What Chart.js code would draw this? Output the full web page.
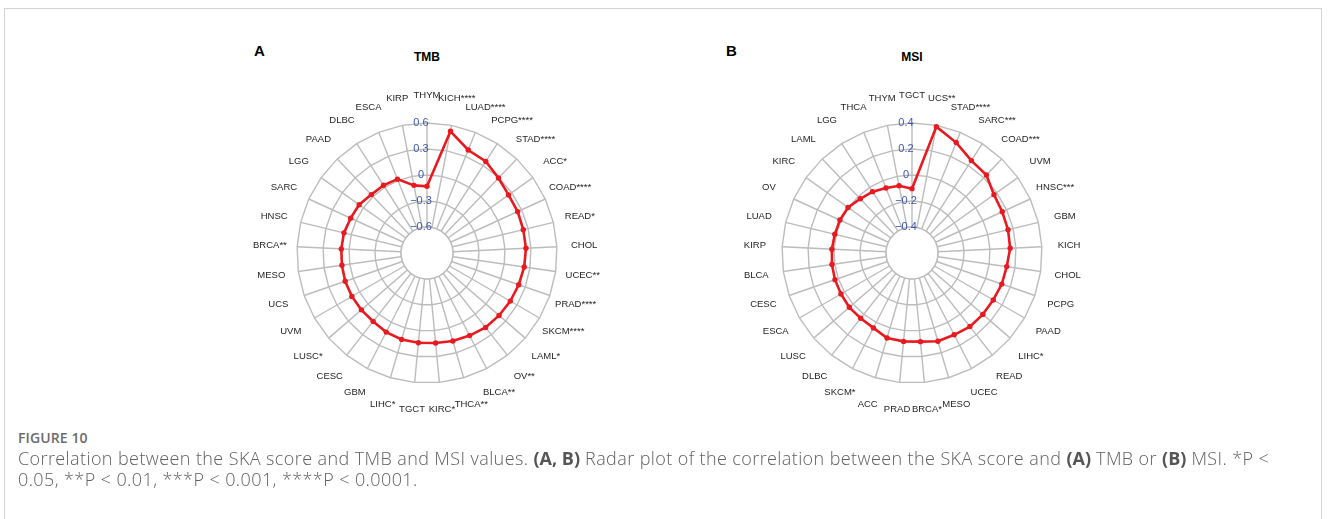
<!DOCTYPE html>
<html>
<head>
<meta charset="utf-8">
<script src="https://cdn.jsdelivr.net/npm/chart.js@4.4.1/dist/chart.umd.min.js"></script>
<style>
  html, body { margin: 0; padding: 0; background: #fff; }
  body { width: 1328px; height: 519px; position: relative; overflow: hidden; font-family: "Liberation Sans", Arial, sans-serif; }
  .frame { position: absolute; left: 4px; top: 8px; width: 1318px; height: 530px; border: 1px solid #d3d3d3; box-sizing: border-box; }
  .panel { position: absolute; font-weight: bold; color: #000; font-size: 15px; line-height: 15px; }
  .title { position: absolute; font-weight: bold; color: #000; font-size: 12px; line-height: 12px; width: 100px; text-align: center; }
  canvas { position: absolute; }
  .figlabel { position: absolute; left: 18px; top: 429px; font-family: "Open Sans", sans-serif; font-weight: 600; font-size: 14px; line-height: 18px; color: #6b6b6b; letter-spacing: 0.1px; }
  .caption { position: absolute; left: 18px; top: 448px; width: 1300px; font-family: "Open Sans", sans-serif; font-weight: 300; font-size: 18px; line-height: 21px; color: #606060; white-space: nowrap; letter-spacing: 0.4px; }
  .caption b { font-weight: 700; color: #555; letter-spacing: 0; }
</style>
</head>
<body>
<div class="frame"></div>
<div class="panel" style="left:254px; top:43px;">A</div>
<div class="title" style="left:377px; top:51px;">TMB</div>
<div class="panel" style="left:726px; top:43px;">B</div>
<div class="title" style="left:862px; top:51px;">MSI</div>
<canvas id="tmb" width="400" height="400" style="left:227px; top:53px;"></canvas>
<canvas id="msi" width="400" height="400" style="left:712px; top:53px;"></canvas>
<div class="figlabel">FIGURE 10</div>
<div class="caption">Correlation between the SKA score and TMB and MSI values. <b>(A, B)</b> Radar plot of the correlation between the SKA score and <b>(A)</b> TMB or <b>(B)</b> MSI. *P &lt;<br>0.05, **P &lt; 0.01, ***P &lt; 0.001, ****P &lt; 0.0001.</div>
<script>
// ---- Data ----
const tmbLabels = ["THYM","KICH****","LUAD****","PCPG****","STAD****","ACC*","COAD****","READ*","CHOL","UCEC**","PRAD****","SKCM****","LAML*","OV**","BLCA**","THCA**","KIRC*","TGCT","LIHC*","GBM","CESC","LUSC*","UVM","UCS","MESO","BRCA**","HNSC","SARC","LGG","PAAD","DLBC","ESCA","KIRP"];
const tmbValues = [-0.13,0.53,0.38,0.355,0.295,0.255,0.25,0.243,0.243,0.233,0.22,0.21,0.2,0.194,0.172,0.159,0.144,0.141,0.139,0.127,0.105,0.102,0.101,0.099,0.092,0.09,0.086,0.068,0.061,0.031,0.029,0.018,-0.105];
const tmbTicks = [-0.6,-0.3,0,0.3,0.6];

const msiLabels = ["TGCT","UCS**","STAD****","SARC***","COAD***","UVM","HNSC***","GBM","KICH","CHOL","PCPG","PAAD","LIHC*","READ","UCEC","MESO","BRCA*","PRAD","ACC","SKCM*","DLBC","LUSC","ESCA","CESC","BLCA","KIRP","LUAD","OV","KIRC","LAML","LGG","THCA","THYM"];
const msiValues = [-0.105,0.39,0.315,0.245,0.229,0.174,0.163,0.16,0.156,0.136,0.131,0.122,0.121,0.12,0.108,0.107,0.085,0.083,0.082,0.048,0.039,0.038,0.031,0.027,0.022,0.017,0.011,0.01,0.004,-0.024,-0.039,-0.062,-0.073];
const msiTicks = [-0.4,-0.2,0,0.2,0.4];

const GRID = '#bcbcbc';
const RED = '#e8191f';
const TICK_BLUE = '#3f56b0';

function fmtTick(v) {
  const r = Math.round(v * 10) / 10;
  if (r === 0) return '0';
  return (r < 0 ? '\u2212' : '') + Math.abs(r).toString();
}

const radarDecor = {
  id: 'radarDecor',
  beforeDatasetsDraw(chart, args, opts) {
    const s = chart.scales.r, ctx = chart.ctx;
    const n = chart.data.labels.length;
    const d = s.getDistanceFromCenterForValue(opts.ticks[0]);
    ctx.save();
    ctx.beginPath();
    for (let i = 0; i < n; i++) {
      const p = s.getPointPosition(i, d);
      if (i === 0) ctx.moveTo(p.x, p.y); else ctx.lineTo(p.x, p.y);
    }
    ctx.closePath();
    ctx.fillStyle = '#fff';
    ctx.fill();
    ctx.strokeStyle = GRID;
    ctx.lineWidth = 1.4;
    ctx.stroke();
    ctx.restore();
  },
  afterDatasetsDraw(chart, args, opts) {
    const s = chart.scales.r, ctx = chart.ctx;
    ctx.save();
    ctx.font = '11px "Liberation Sans", Arial, sans-serif';
    ctx.fillStyle = TICK_BLUE;
    ctx.textAlign = 'center';
    ctx.textBaseline = 'middle';
    opts.ticks.forEach(t => {
      const y = s.yCenter - s.getDistanceFromCenterForValue(t);
      ctx.fillText(fmtTick(t), s.xCenter - 6, y);
    });
    ctx.font = '9.5px "Liberation Sans", Arial, sans-serif';
    ctx.fillStyle = '#1e1e1e';
    chart.data.labels.forEach((lab, i) => {
      const p = s.getPointPosition(i, s.drawingArea * 1.21);
      ctx.fillText(lab, p.x, p.y);
    });
    ctx.restore();
  }
};

function makeRadar(id, labels, values, ticks) {
  const step = ticks[1] - ticks[0];
  return new Chart(document.getElementById(id), {
    type: 'radar',
    data: {
      labels: labels,
      datasets: [{
        data: values,
        fill: false,
        borderColor: RED,
        borderWidth: 2.6,
        tension: 0,
        pointRadius: 2.7,
        pointBackgroundColor: RED,
        pointBorderColor: RED,
        pointBorderWidth: 0
      }]
    },
    options: {
      responsive: false,
      animation: false,
      devicePixelRatio: 1,
      layout: { padding: 70 },
      plugins: {
        legend: { display: false },
        tooltip: { enabled: false },
        radarDecor: { ticks: ticks }
      },
      scales: {
        r: {
          min: ticks[0] - step,
          max: ticks[ticks.length - 1],
          ticks: { display: false, stepSize: step },
          grid: { color: GRID, lineWidth: 1.4 },
          angleLines: { color: GRID, lineWidth: 1.4 },
          pointLabels: { display: false }
        }
      }
    },
    plugins: [radarDecor]
  });
}

makeRadar('tmb', tmbLabels, tmbValues, tmbTicks);
makeRadar('msi', msiLabels, msiValues, msiTicks);
</script>
</body>
</html>
